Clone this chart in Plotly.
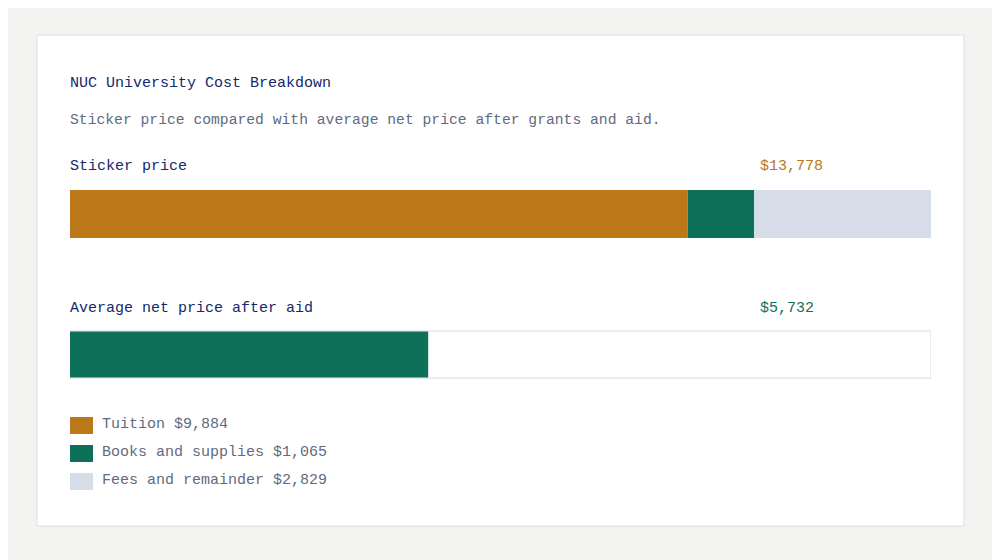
import plotly.graph_objects as go

title = "NUC University Cost Breakdown"
subtitle = "Sticker price compared with average net price after grants and aid."
components = ["Tuition", "Books and supplies", "Fees and remainder"]
values = [9884, 1065, 2829]
colors = ["#bb7718", "#0f705a", "#d6dde8"]
sticker_total = 13778
net_price = 5732

FONT = "Liberation Mono"
NAVY = "#13296b"
GRAY = "#5f6b80"
OX, OY = 8, 8  # page body offset
W, H = 1000, 560

def px(x):
    return (x - OX) / W
def py(y):
    return 1 - (y - OY) / H

fig = go.Figure()
base = 0
for name, v, c in zip(components, values, colors):
    fig.add_trace(go.Bar(x=[v], y=[214 - OY], base=[base], width=[48], orientation="h",
                         marker=dict(color=c, line=dict(width=0)), showlegend=False, hoverinfo="skip"))
    base += v
fig.add_trace(go.Bar(x=[sticker_total], y=[354.5 - OY], base=[0], width=[47], orientation="h",
                     marker=dict(color="white", line=dict(color="#d5dae4", width=1)), showlegend=False, hoverinfo="skip"))
fig.add_trace(go.Bar(x=[net_price], y=[354.5 - OY], base=[0], width=[46], orientation="h",
                     marker=dict(color=colors[1], line=dict(width=0)), showlegend=False, hoverinfo="skip"))

shapes = [dict(type="rect", xref="paper", yref="paper", x0=px(37), x1=px(964), y0=py(526), y1=py(35),
               fillcolor="white", line=dict(color="#d9dee8", width=1), layer="below")]
ann = []
def txt(x, y, s, color, size=15):
    ann.append(dict(xref="paper", yref="paper", x=px(x), y=py(y), text=s, showarrow=False,
                    xanchor="left", yanchor="middle", font=dict(family=FONT, size=size, color=color)))
txt(68, 84, title, NAVY)
txt(68, 120, subtitle, GRAY, 14.7)
txt(68, 166, "Sticker price", NAVY)
txt(758, 166, f"${sticker_total:,}", colors[0])
txt(68, 308, "Average net price after aid", NAVY)
txt(758, 308, f"${net_price:,}", colors[1])
for i, (name, v, c) in enumerate(zip(components, values, colors)):
    yc = 425.5 + 28 * i
    shapes.append(dict(type="rect", xref="paper", yref="paper", x0=px(70), x1=px(93),
                       y0=py(yc + 8.5), y1=py(yc - 8.5), fillcolor=c, line=dict(width=0)))
    txt(100, yc - 1, f"{name} ${v:,}", GRAY)

fig.update_layout(
    width=W, height=H, margin=dict(l=0, r=0, t=0, b=0),
    paper_bgcolor="#f3f3f1", plot_bgcolor="rgba(0,0,0,0)", barmode="overlay",
    xaxis=dict(domain=[px(70), px(931)], range=[0, sticker_total], visible=False, fixedrange=True),
    yaxis=dict(domain=[0, 1], range=[H, 0], visible=False, fixedrange=True),
    shapes=shapes, annotations=ann,
)
fig.write_html("out.html")
